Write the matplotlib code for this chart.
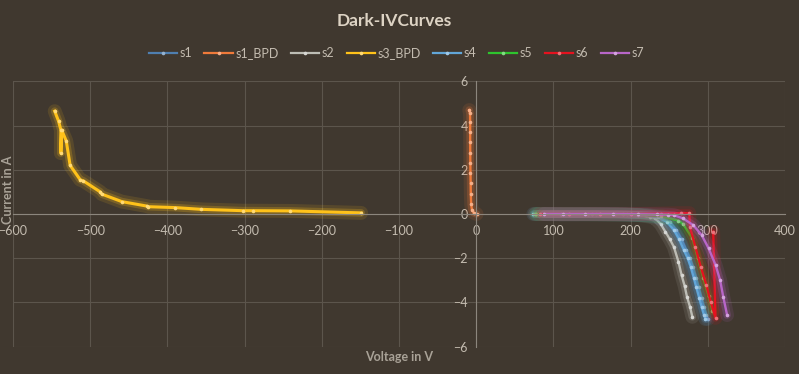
import matplotlib
matplotlib.use("Agg")
import matplotlib.pyplot as plt
import matplotlib.colors as mcolors

plt.rcParams['font.family'] = ['Lato', 'DejaVu Sans']

bg = '#40382f'
txt = '#c4bcb0'

# series data (voltage V, current A)
s1_x = [80, 115, 155, 195, 225, 240, 251, 259, 266, 272, 277, 281, 285, 288, 292, 295, 298, 300]
s1_y = [0, -0.01, -0.01, -0.02, -0.06, -0.15, -0.35, -0.72, -1.15, -1.63, -2.0, -2.4, -2.9, -3.3, -3.8, -4.2, -4.55, -4.75]

s1_bpd_x = [-9, -8, -7.8, -7.8, -7.8, -7.7, -7.6, -7.4, -7.2, -7, -6.5, -5.5, -3, 0.5]
s1_bpd_y = [4.7, 4.55, 4.15, 3.7, 3.24, 2.76, 2.3, 1.85, 1.39, 0.9, 0.44, 0.18, 0.05, 0.0]

s2_x = [76, 110, 145, 180, 210, 225, 232, 239, 245, 251, 256, 262, 266, 270, 273, 277, 280]
s2_y = [0, -0.01, -0.01, -0.02, -0.05, -0.12, -0.2, -0.45, -0.8, -1.15, -1.48, -2.16, -2.76, -3.25, -3.74, -4.2, -4.65]

s3_bpd_x = [-546, -541, -538, -538, -537, -531, -526, -513, -509, -487, -485, -459, -427, -425, -390, -356, -302, -289, -241, -149]
s3_bpd_y = [4.65, 4.2, 3.8, 2.75, 3.8, 3.3, 2.2, 1.55, 1.5, 1.0, 0.9, 0.56, 0.36, 0.33, 0.29, 0.21, 0.15, 0.15, 0.14, 0.05]

s4_x = [74, 110, 150, 190, 220, 235, 247, 256, 263, 269, 274, 278, 282, 285, 289, 292, 295, 297]
s4_y = [0, -0.01, -0.01, -0.02, -0.06, -0.15, -0.35, -0.72, -1.15, -1.63, -2.0, -2.4, -2.9, -3.3, -3.8, -4.2, -4.55, -4.75]

s5_x = [78, 120, 160, 200, 240, 262, 268, 280, 287, 294, 301, 306]
s5_y = [0, 0, -0.01, -0.02, -0.1, -0.3, -0.45, -1.1, -2.0, -2.9, -3.7, -4.4]

s6_x = [83, 120, 160, 200, 240, 265, 276, 277, 284, 291, 298, 304, 310, 307]
s6_y = [0, 0, 0, 0, 0.02, 0.04, 0.04, -0.6, -1.5, -2.4, -3.2, -4.0, -4.7, -0.8]

s7_x = [88, 113, 141, 177, 209, 234, 248, 256, 268, 281, 292, 301, 310, 316, 320, 325]
s7_y = [0, 0, 0, 0, -0.01, -0.02, -0.03, -0.05, -0.2, -0.5, -0.95, -1.55, -2.3, -3.0, -3.74, -4.57]

series = [
    ('s1', s1_x, s1_y, '#4f7fb0'),
    ('s1_BPD', s1_bpd_x, s1_bpd_y, '#f07a3a'),
    ('s2', s2_x, s2_y, '#bdbdb5'),
    ('s3_BPD', s3_bpd_x, s3_bpd_y, '#ffc21a'),
    ('s4', s4_x, s4_y, '#62a6d8'),
    ('s5', s5_x, s5_y, '#2ec42e'),
    ('s6', s6_x, s6_y, '#e5121f'),
    ('s7', s7_x, s7_y, '#b866c8'),
]


def lighten(c, f=0.4):
    r, g, b = mcolors.to_rgb(c)
    return (r + (1 - r) * f, g + (1 - g) * f, b + (1 - b) * f)


fig = plt.figure(figsize=(7.99, 3.74), dpi=100, facecolor=bg)
ax = fig.add_axes([13 / 799, 1 - 346.7 / 374, (785 - 13) / 799, (346.7 - 81.3) / 374])
ax.set_facecolor(bg)

for name, xs, ys, c in series:
    lw = 2.2 if name == 's3_BPD' else 1.7
    # soft glow under each line
    ax.plot(xs, ys, color=c, lw=10, alpha=0.12, solid_capstyle='round', solid_joinstyle='round')
    ax.plot(xs, ys, color=c, lw=5.5, alpha=0.22, solid_capstyle='round', solid_joinstyle='round')
    ax.plot(xs, ys, color=c, lw=lw, marker='o', ms=2.6, mfc=lighten(c), mec=lighten(c),
            mew=0, label=name)

ax.set_xlim(-600, 400)
ax.set_ylim(-6, 6)
ax.set_xticks(range(-600, 401, 100))
ax.set_yticks(range(-6, 7, 2))
ax.grid(True, color='#5c554c', lw=0.8)
ax.set_axisbelow(True)

for s in ['top', 'right']:
    ax.spines[s].set_visible(False)
ax.spines['left'].set_position(('data', 0))
ax.spines['bottom'].set_position(('data', 0))
ax.spines['left'].set_color('#8c867d')
ax.spines['bottom'].set_color('#8c867d')
ax.tick_params(length=0, colors=txt, labelsize=9)
ax.tick_params(axis='x', pad=8)
ax.tick_params(axis='y', pad=6)

fig.text(0.494, 0.945, 'Dark-IVCurves', ha='center', va='center',
         fontsize=12.5, fontweight='bold', color='#ddd3c4')
fig.text(8 / 799, 1 - 190 / 374, 'Current in A', rotation=90, ha='center', va='center',
         fontsize=9, fontweight='bold', color='#a9a297')
fig.text(399 / 799, 1 - 357 / 374, 'Voltage in V', ha='center', va='center',
         fontsize=9, fontweight='bold', color='#a9a297')

leg = fig.legend(loc='center', bbox_to_anchor=(0.496, 1 - 53 / 374), ncol=8, frameon=False,
                 fontsize=9, labelcolor=txt, handlelength=2.25, columnspacing=1.0,
                 handletextpad=0.2)
for h in leg.legend_handles:
    h.set_linewidth(1.6)

fig.savefig('out.png', dpi=100, facecolor=bg)
